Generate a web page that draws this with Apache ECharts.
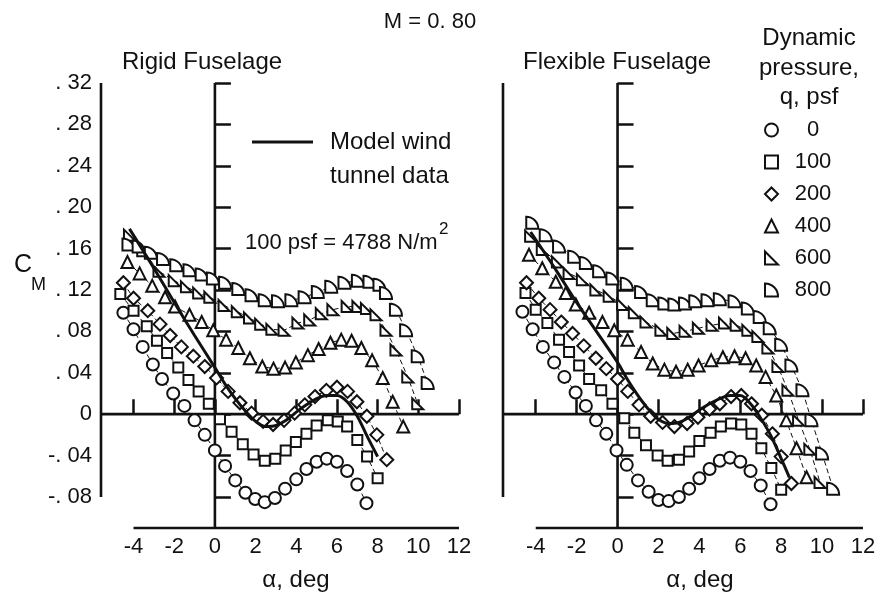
<!DOCTYPE html>
<html>
<head>
<meta charset="utf-8">
<script src="https://cdn.jsdelivr.net/npm/echarts@6/dist/echarts.min.js"></script>
<style>
  html, body { margin: 0; padding: 0; background: #fff; }
  #chart { width: 882px; height: 598px; }
</style>
</head>
<body>
<div id="chart"></div>
<script>
// ---- axis ticks ----
const alphaTicks = [-4, -2, 0, 2, 4, 6, 8, 10, 12];
const cmTicks = [-0.08, -0.04, 0, 0.04, 0.08, 0.12, 0.16, 0.20, 0.24, 0.28, 0.32];
const qLevels = ['0', '100', '200', '400', '600', '800'];

// ---- Rigid fuselage: [alpha (deg), CM] ----
const rigidQ0 = [[-4.5,0.098],[-4.0,0.082],[-3.55,0.065],[-3.05,0.048],[-2.6,0.034],[-2.05,0.020],[-1.5,0.008],[-1.0,-0.006],[-0.5,-0.020],[0.0,-0.035],[0.5,-0.050],[1.0,-0.064],[1.5,-0.076],[1.98,-0.082],[2.45,-0.085],[2.95,-0.081],[3.45,-0.072],[4.0,-0.063],[4.5,-0.053],[5.0,-0.046],[5.5,-0.043],[6.0,-0.046],[6.5,-0.055],[7.0,-0.068],[7.45,-0.086]];
const rigidQ100 = [[-4.65,0.116],[-4.0,0.100],[-3.35,0.085],[-2.85,0.071],[-2.35,0.059],[-1.8,0.045],[-1.3,0.033],[-0.8,0.022],[-0.3,0.010],[0.25,-0.005],[0.82,-0.017],[1.37,-0.029],[1.9,-0.039],[2.45,-0.045],[2.97,-0.043],[3.48,-0.035],[3.98,-0.027],[4.5,-0.019],[5.0,-0.011],[5.55,-0.006],[6.04,-0.007],[6.5,-0.012],[7.0,-0.025],[7.48,-0.041],[8.0,-0.062]];
const rigidQ200 = [[-4.5,0.127],[-4.0,0.112],[-3.3,0.100],[-2.7,0.087],[-2.2,0.076],[-1.65,0.065],[-1.06,0.056],[-0.5,0.046],[0.08,0.035],[0.65,0.022],[1.23,0.011],[1.8,0.001],[2.37,-0.007],[2.86,-0.010],[3.4,-0.006],[3.92,0.001],[4.42,0.009],[4.92,0.017],[5.48,0.023],[6.0,0.026],[6.52,0.022],[6.98,0.012],[7.47,-0.002],[7.96,-0.020],[8.45,-0.044]];
const rigidQ400 = [[-4.3,0.147],[-3.7,0.136],[-3.08,0.124],[-2.45,0.113],[-1.96,0.104],[-1.25,0.096],[-0.65,0.089],[-0.08,0.081],[0.55,0.072],[1.15,0.064],[1.72,0.054],[2.33,0.046],[2.88,0.044],[3.45,0.045],[3.98,0.050],[4.57,0.057],[5.1,0.063],[5.68,0.069],[6.21,0.072],[6.72,0.071],[7.2,0.064],[7.73,0.052],[8.25,0.035],[8.74,0.012],[9.26,-0.012]];
const rigidQ600 = [[-4.2,0.173],[-3.55,0.158],[-2.75,0.138],[-2.0,0.129],[-1.4,0.123],[-0.8,0.117],[-0.25,0.113],[0.45,0.105],[1.1,0.099],[1.7,0.093],[2.25,0.087],[2.8,0.082],[3.4,0.081],[4.08,0.088],[4.66,0.091],[5.23,0.097],[5.8,0.101],[6.5,0.104],[7.03,0.104],[7.45,0.102],[7.92,0.096],[8.41,0.081],[8.9,0.062],[9.48,0.036],[9.97,0.010]];
const rigidQ800 = [[-4.25,0.164],[-3.75,0.162],[-3.15,0.156],[-2.55,0.150],[-1.9,0.144],[-1.25,0.139],[-0.65,0.135],[-0.1,0.131],[0.5,0.127],[1.15,0.121],[1.8,0.115],[2.45,0.110],[3.1,0.109],[3.76,0.110],[4.41,0.113],[5.06,0.118],[5.72,0.123],[6.37,0.127],[7.03,0.129],[7.6,0.128],[8.09,0.125],[8.41,0.117],[8.9,0.101],[9.4,0.081],[9.97,0.056],[10.46,0.030]];
const rigidModel = [[-4.2,0.179],[-3,0.141],[-2,0.108],[-1,0.076],[0,0.045],[0.5,0.029],[1,0.015],[1.5,0.003],[2,-0.007],[2.5,-0.012],[3,-0.011],[3.5,-0.006],[4,0.002],[4.5,0.009],[5,0.015],[5.5,0.018],[6,0.018],[6.5,0.012],[7,-0.002],[7.5,-0.022],[8,-0.041]];

// ---- Flexible fuselage: [alpha (deg), CM] ----
const flexQ0 = [[-4.65,0.099],[-4.15,0.082],[-3.65,0.065],[-3.1,0.050],[-2.6,0.036],[-2.05,0.021],[-1.55,0.008],[-1.05,-0.006],[-0.55,-0.019],[-0.05,-0.035],[0.45,-0.049],[1.0,-0.064],[1.52,-0.075],[2.0,-0.083],[2.5,-0.084],[3.0,-0.080],[3.5,-0.072],[4.0,-0.062],[4.5,-0.053],[5.0,-0.045],[5.5,-0.042],[6.0,-0.046],[6.5,-0.055],[7.0,-0.069],[7.48,-0.087]];
const flexQ100 = [[-4.5,0.117],[-4.0,0.101],[-3.43,0.088],[-2.86,0.072],[-2.37,0.060],[-1.88,0.047],[-1.39,0.034],[-0.8,0.023],[-0.25,0.010],[0.33,-0.004],[0.82,-0.018],[1.39,-0.030],[1.96,-0.040],[2.45,-0.045],[3.0,-0.044],[3.5,-0.036],[4.0,-0.026],[4.55,-0.018],[5.05,-0.012],[5.55,-0.009],[6.05,-0.010],[6.55,-0.019],[7.03,-0.033],[7.52,-0.052],[8.0,-0.073]];
const flexQ200 = [[-4.45,0.127],[-3.85,0.112],[-3.3,0.101],[-2.75,0.089],[-2.2,0.078],[-1.65,0.066],[-1.06,0.054],[-0.55,0.044],[0.0,0.034],[0.5,0.022],[1.05,0.009],[1.62,-0.002],[2.2,-0.008],[2.78,-0.012],[3.4,-0.009],[3.93,-0.003],[4.5,0.005],[5.0,0.010],[5.55,0.017],[6.05,0.018],[6.55,0.010],[7.05,-0.001],[7.57,-0.019],[8.0,-0.041],[8.5,-0.067]];
const flexQ400 = [[-4.33,0.154],[-3.68,0.141],[-3.02,0.128],[-2.53,0.117],[-2.04,0.106],[-1.39,0.098],[-0.74,0.089],[-0.16,0.081],[0.49,0.072],[1.15,0.060],[1.72,0.049],[2.29,0.043],[2.86,0.041],[3.43,0.043],[3.96,0.047],[4.58,0.052],[5.15,0.055],[5.72,0.056],[6.26,0.054],[6.78,0.047],[7.24,0.036],[7.76,0.018],[8.25,-0.006],[8.75,-0.033],[9.24,-0.061]];
const flexQ600 = [[-4.25,0.172],[-3.68,0.159],[-2.94,0.147],[-2.37,0.136],[-1.72,0.130],[-1.06,0.120],[-0.41,0.114],[0.25,0.106],[0.82,0.098],[1.39,0.089],[2.12,0.081],[2.7,0.078],[3.3,0.080],[3.95,0.083],[4.62,0.086],[5.23,0.088],[5.8,0.086],[6.37,0.081],[6.86,0.075],[7.35,0.064],[7.84,0.046],[8.33,0.023],[8.85,-0.006],[9.4,-0.034],[9.9,-0.066]];
const flexQ800 = [[-4.17,0.185],[-3.51,0.173],[-2.86,0.162],[-2.12,0.152],[-1.55,0.146],[-0.9,0.138],[-0.25,0.131],[0.45,0.126],[1.15,0.118],[1.72,0.110],[2.29,0.107],[2.78,0.106],[3.3,0.107],[3.8,0.109],[4.4,0.110],[5.0,0.111],[5.72,0.109],[6.37,0.102],[6.95,0.094],[7.44,0.083],[8.0,0.067],[8.5,0.047],[9.04,0.023],[9.48,-0.006],[10.0,-0.038],[10.54,-0.072]];
const flexModel = [[-4.25,0.176],[-3,0.139],[-2,0.108],[-1,0.079],[0,0.050],[0.5,0.033],[1,0.018],[1.5,0.005],[2,-0.005],[2.5,-0.009],[3,-0.008],[3.5,-0.003],[4,0.004],[4.5,0.010],[5,0.015],[5.5,0.018],[6,0.018],[6.5,0.010],[7,-0.004],[7.5,-0.021],[8,-0.043],[8.4,-0.061]];

// ---- axis extents ----
const ALPHA_MIN = -5.6, ALPHA_MAX = 12;
const CM_MIN = -0.11, CM_MAX = 0.32;

const SANS = '"Liberation Sans", Arial, sans-serif';
const INK = '#111';

// marker shapes per dynamic pressure
const SYM_FLAG = 'path://M0,0 L0,10 L10,10 Z';
const SYM_HALF = 'path://M0,0 L0,10 L10,10 C10,4.5 5.5,0 0,0 Z';
const markers = {
  '0':   { symbol: 'circle',   size: 12 },
  '100': { symbol: 'rect',     size: 10 },
  '200': { symbol: 'diamond',  size: 13 },
  '400': { symbol: 'triangle', size: 12 },
  '600': { symbol: SYM_FLAG,   size: 11 },
  '800': { symbol: SYM_HALF,   size: 12 }
};

const rigidSets = { '0': rigidQ0, '100': rigidQ100, '200': rigidQ200, '400': rigidQ400, '600': rigidQ600, '800': rigidQ800 };
const flexSets  = { '0': flexQ0,  '100': flexQ100,  '200': flexQ200,  '400': flexQ400,  '600': flexQ600,  '800': flexQ800 };

function cmLabel(v) {
  if (Math.abs(v) < 1e-9) return '0';
  const digits = Math.abs(v).toFixed(2).slice(2);
  return (v < 0 ? '-. ' : '. ') + digits;
}

function xAxisFor(gridIndex) {
  return {
    type: 'value', gridIndex, min: ALPHA_MIN, max: ALPHA_MAX,
    axisLine: { show: false },
    splitLine: { show: false },
    axisTick: { show: true, inside: true, length: 15, customValues: alphaTicks, lineStyle: { color: INK, width: 2.5 } },
    axisLabel: { customValues: alphaTicks, color: INK, fontFamily: SANS, fontSize: 22, margin: 8 }
  };
}
function yAxisFor(gridIndex, labels) {
  return {
    type: 'value', gridIndex, min: CM_MIN, max: CM_MAX,
    axisLine: { show: false },
    splitLine: { show: false },
    axisTick: { show: true, inside: true, length: 16, customValues: cmTicks, lineStyle: { color: INK, width: 2.5 } },
    axisLabel: { show: labels, customValues: cmTicks, formatter: cmLabel, color: INK, fontFamily: SANS, fontSize: 22, margin: 9 }
  };
}

// axis frame and the zero reference lines, drawn in data space
function frameSeries(i) {
  const base = {
    type: 'line', xAxisIndex: i, yAxisIndex: i, symbol: 'none', silent: true, clip: false,
    lineStyle: { color: INK, width: 2.6 }, z: 1, animation: false
  };
  return [
    Object.assign({}, base, { data: [[ALPHA_MIN, -0.08], [ALPHA_MIN, CM_MAX]] }),
    Object.assign({}, base, { data: [[-4, CM_MIN], [ALPHA_MAX, CM_MIN]] }),
    Object.assign({}, base, { data: [[ALPHA_MIN, 0], [ALPHA_MAX, 0]] }),
    Object.assign({}, base, { data: [[0, CM_MIN], [0, CM_MAX]] })
  ];
}

function dataSeries(i, sets) {
  return qLevels.map(q => ({
    name: q, type: 'line', xAxisIndex: i, yAxisIndex: i,
    data: sets[q],
    symbol: markers[q].symbol, symbolSize: markers[q].size, symbolKeepAspect: true,
    showAllSymbol: true,
    lineStyle: { color: INK, width: 1, type: [5, 3] },
    itemStyle: { color: '#fff', borderColor: INK, borderWidth: 2 },
    z: 3, animation: false
  }));
}

function modelSeries(i, data) {
  return {
    name: 'Model wind tunnel data', type: 'line', xAxisIndex: i, yAxisIndex: i,
    data, symbol: 'none', smooth: 0.35,
    lineStyle: { color: INK, width: 3 }, z: 5, animation: false
  };
}

const txt = (x, y, text, size, extra) => ({
  type: 'text', x, y,
  style: Object.assign({ text, fill: INK, font: `${size}px ${SANS}`, textVerticalAlign: 'middle' }, extra || {})
});

const chart = echarts.init(document.getElementById('chart'), null, { renderer: 'canvas' });
chart.setOption({
  backgroundColor: '#fff',
  animation: false,
  grid: [
    { left: 101, top: 83, width: 358, height: 445 },
    { left: 503, top: 83, width: 360, height: 445 }
  ],
  xAxis: [xAxisFor(0), xAxisFor(1)],
  yAxis: [yAxisFor(0, true), yAxisFor(1, false)],
  legend: {
    orient: 'vertical', left: 759, top: 113,
    itemWidth: 13, itemHeight: 13, itemGap: 8,
    selectedMode: false,
    data: qLevels.map(q => ({ name: q, icon: markers[q].symbol })),
    itemStyle: { color: '#fff', borderColor: INK, borderWidth: 2 },
    formatter: name => '{t|' + name + '}',
    textStyle: {
      color: INK, fontFamily: SANS, fontSize: 22, lineHeight: 24,
      rich: { t: { width: 38, align: 'center', fontFamily: SANS, fontSize: 22, lineHeight: 24, padding: [0, 0, 0, 11] } }
    }
  },
  series: [
    ...frameSeries(0), ...frameSeries(1),
    ...dataSeries(0, rigidSets), ...dataSeries(1, flexSets),
    modelSeries(0, rigidModel), modelSeries(1, flexModel)
  ],
  graphic: [
    txt(430, 22, 'M = 0. 80', 22, { textAlign: 'center' }),
    txt(122, 62, 'Rigid Fuselage', 24),
    txt(523, 62, 'Flexible Fuselage', 24),
    txt(809, 38, 'Dynamic', 24, { textAlign: 'center' }),
    txt(809, 68, 'pressure,', 24, { textAlign: 'center' }),
    txt(809, 97, 'q, psf', 24, { textAlign: 'center' }),
    { type: 'line', shape: { x1: 252, y1: 142, x2: 313, y2: 142 }, style: { stroke: INK, lineWidth: 3 } },
    txt(330, 142, 'Model wind', 24),
    txt(330, 176, 'tunnel data', 24),
    txt(245, 243, '100 psf = 4788 N/m', 22),
    txt(439, 229, '2', 17),
    txt(14, 265, 'C', 25),
    txt(31, 285, 'M', 18),
    txt(296, 580, 'α, deg', 24, { textAlign: 'center' }),
    txt(700, 580, 'α, deg', 24, { textAlign: 'center' })
  ]
});
</script>
</body>
</html>
